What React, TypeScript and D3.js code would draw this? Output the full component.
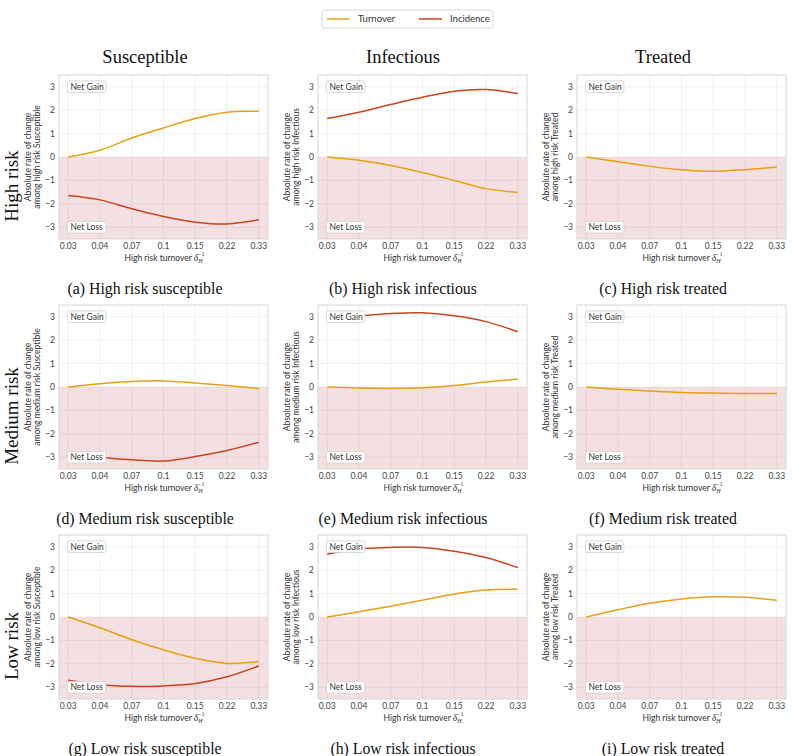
import React from "react";
import * as d3 from "d3";

const xLabels = ["0.03", "0.04", "0.07", "0.1", "0.15", "0.22", "0.33"];
const rowNames = ["High risk", "Medium risk", "Low risk"];
const colNames = ["Susceptible", "Infectious", "Treated"];
const yTicks = [-3, -2, -1, 0, 1, 2, 3];
const captions = [
  ["(a) High risk susceptible", "(b) High risk infectious", "(c) High risk treated"],
  ["(d) Medium risk susceptible", "(e) Medium risk infectious", "(f) Medium risk treated"],
  ["(g) Low risk susceptible", "(h) Low risk infectious", "(i) Low risk treated"],
];

// Turnover / Incidence series per panel
const hiSusTurnover = [0, 0.29, 0.81, 1.24, 1.64, 1.91, 1.95];
const hiSusIncidence = [-1.64, -1.83, -2.21, -2.54, -2.78, -2.86, -2.68];
const hiInfTurnover = [0, -0.14, -0.36, -0.66, -1.0, -1.35, -1.51];
const hiInfIncidence = [1.64, 1.91, 2.24, 2.55, 2.81, 2.88, 2.71];
const hiTrtTurnover = [0, -0.2, -0.4, -0.54, -0.61, -0.54, -0.43];
const medSusTurnover = [0, 0.14, 0.23, 0.26, 0.17, 0.06, -0.07];
const medSusIncidence = [-2.88, -3.0, -3.11, -3.16, -2.97, -2.71, -2.36];
const medInfTurnover = [0, -0.04, -0.06, -0.03, 0.06, 0.21, 0.34];
const medInfIncidence = [2.95, 3.03, 3.14, 3.17, 3.04, 2.79, 2.36];
const medTrtTurnover = [0, -0.1, -0.17, -0.23, -0.26, -0.28, -0.28];
const lowSusTurnover = [0, -0.46, -0.97, -1.4, -1.76, -1.98, -1.9];
const lowSusIncidence = [-2.7, -2.89, -2.96, -2.94, -2.84, -2.55, -2.09];
const lowInfTurnover = [0, 0.22, 0.46, 0.72, 0.98, 1.15, 1.18];
const lowInfIncidence = [2.68, 2.9, 2.97, 2.97, 2.81, 2.54, 2.11];
const lowTrtTurnover = [0, 0.31, 0.59, 0.77, 0.86, 0.84, 0.71];

const panels: { turnover: number[]; incidence: number[] | null }[][] = [
  [
    { turnover: hiSusTurnover, incidence: hiSusIncidence },
    { turnover: hiInfTurnover, incidence: hiInfIncidence },
    { turnover: hiTrtTurnover, incidence: null },
  ],
  [
    { turnover: medSusTurnover, incidence: medSusIncidence },
    { turnover: medInfTurnover, incidence: medInfIncidence },
    { turnover: medTrtTurnover, incidence: null },
  ],
  [
    { turnover: lowSusTurnover, incidence: lowSusIncidence },
    { turnover: lowInfTurnover, incidence: lowInfIncidence },
    { turnover: lowTrtTurnover, incidence: null },
  ],
];

const W = 792;
const H = 756;
const colLeft = [59, 318, 577];
const colCenter = [145, 403, 663];
const rowTop = [75, 305, 535];
const plotW = 209;
const plotH = 164;
const TURN = "#e6a014";
const INC = "#c8441c";
const SANS = "Lato, 'DejaVu Sans', sans-serif";
const SERIF = "'Liberation Serif', 'DejaVu Serif', serif";

function Panel({ r, c }: { r: number; c: number }) {
  const left = colLeft[c];
  const top = rowTop[r];
  const x = d3.scalePoint<string>().domain(xLabels).range([left, left + plotW]).padding(0.29);
  const y = d3.scaleLinear().domain([-3.5, 3.5]).range([top + plotH, top]);
  const line = d3
    .line<number>()
    .x((_, i) => x(xLabels[i]) as number)
    .y((v) => y(v))
    .curve(d3.curveCatmullRom.alpha(0.5));
  const p = panels[r][c];
  const cy = top + plotH / 2;
  const x0 = x(xLabels[0]) as number;
  const box = (label: string, v: number) => (
    <g>
      <rect x={x0 - 0.8} y={y(v) - 5.8} width={38.5} height={11.6} rx={2} fill="#fff" stroke="#cfcfcf" strokeWidth={0.8} />
      <text x={x0 + 2.3} y={y(v) + 3} fontSize={8.5} fontFamily={SANS} fill="#333">{label}</text>
    </g>
  );
  return (
    <g>
      {xLabels.map((l) => (
        <line key={"gx" + l} x1={x(l)} x2={x(l)} y1={top} y2={top + plotH} stroke="#ebebeb" strokeWidth={0.8} />
      ))}
      {yTicks.map((t) => (
        <line key={"gy" + t} x1={left} x2={left + plotW} y1={y(t)} y2={y(t)} stroke="#ebebeb" strokeWidth={0.8} />
      ))}
      <rect x={left} y={y(0)} width={plotW} height={y(-3.5) - y(0)} fill="rgb(190,60,70)" fillOpacity={0.16} />
      <rect x={left} y={top} width={plotW} height={plotH} fill="none" stroke="#d6d6d6" strokeWidth={1} />
      <path d={line(p.turnover) || ""} fill="none" stroke={TURN} strokeWidth={1.5} />
      {p.incidence && <path d={line(p.incidence) || ""} fill="none" stroke={INC} strokeWidth={1.5} />}
      {box("Net Gain", 3)}
      {box("Net Loss", -3)}
      {yTicks.map((t) => (
        <text key={"ty" + t} x={left - 4} y={y(t) + 3} textAnchor="end" fontSize={8.5} fontFamily={SANS} fill="#444">
          {t < 0 ? "\u2212" + Math.abs(t) : String(t)}
        </text>
      ))}
      {xLabels.map((l) => (
        <text key={"tx" + l} x={x(l)} y={top + plotH + 9.5} textAnchor="middle" fontSize={8.5} fontFamily={SANS} fill="#444">
          {l}
        </text>
      ))}
      <text x={left + plotW / 2 + 1} y={top + plotH + 21.5} textAnchor="middle" fontSize={8.5} fontFamily={SANS} fill="#333">
        High risk turnover{" "}
        <tspan fontStyle="italic" fontFamily={SERIF} fontSize={9.5}>δ</tspan>
        <tspan fontStyle="italic" fontFamily={SERIF} fontSize={6} dy={2.5}>H</tspan>
        <tspan fontFamily={SERIF} fontSize={6} dx={-4.5} dy={-7}>−1</tspan>
      </text>
      <g transform={`translate(${left - 28},${cy}) rotate(-90)`}>
        <text x={0} y={0} textAnchor="middle" fontSize={8.5} fontFamily={SANS} fill="#333">Absolute rate of change</text>
        <text x={0} y={9.4} textAnchor="middle" fontSize={8.5} fontFamily={SANS} fill="#333">
          {`among ${rowNames[r].toLowerCase()} ${colNames[c]}`}
        </text>
      </g>
      <text x={colCenter[c]} y={top + 219} textAnchor="middle" fontSize={15.8} fontFamily={SERIF} fill="#111">
        {captions[r][c]}
      </text>
    </g>
  );
}

export default function App() {
  return (
    <div style={{ position: "absolute", left: 0, top: 0 }}>
      <svg width={W} height={H} style={{ display: "block", background: "#fff" }}>
        <g>
          <rect x={322} y={10} width={171} height={18} rx={2} fill="#fff" stroke="#d0d0d0" strokeWidth={0.8} />
          <line x1={327} x2={349} y1={19} y2={19} stroke={TURN} strokeWidth={1.5} />
          <text x={358} y={22.3} fontSize={9.5} fontFamily={SANS} fill="#333">Turnover</text>
          <line x1={419} x2={442} y1={19} y2={19} stroke={INC} strokeWidth={1.5} />
          <text x={450} y={22.3} fontSize={9.5} fontFamily={SANS} fill="#333">Incidence</text>
        </g>
        {colNames.map((cn, c) => (
          <text key={cn} x={colCenter[c]} y={63} textAnchor="middle" fontSize={18.5} fontFamily={SERIF} fill="#111">
            {cn}
          </text>
        ))}
        {rowNames.map((rn, r) => (
          <text
            key={rn}
            transform={`translate(18,${rowTop[r] + 111}) rotate(-90)`}
            textAnchor="middle"
            fontSize={19}
            fontFamily={SERIF}
            fill="#111"
          >
            {rn}
          </text>
        ))}
        {rowNames.map((_, r) => colNames.map((__, c) => <Panel key={r + "-" + c} r={r} c={c} />))}
      </svg>
    </div>
  );
}
